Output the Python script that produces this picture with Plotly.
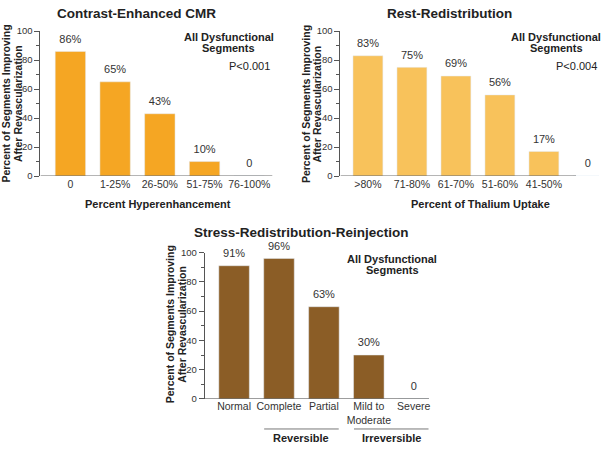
import plotly.graph_objects as go

# ---------------- data ----------------
cmr_cats = ["0", "1-25%", "26-50%", "51-75%", "76-100%"]
cmr_vals = [86, 65, 43, 10, 0]

rr_cats = [">80%", "71-80%", "61-70%", "51-60%", "41-50%", "<40%"]
rr_vals = [83, 75, 69, 56, 17, 0]

srr_cats = ["Normal", "Complete", "Partial", "Mild to<br>Moderate", "Severe"]
srr_vals = [91, 96, 63, 30, 0]

titles = ["Contrast-Enhanced CMR", "Rest-Redistribution", "Stress-Redistribution-Reinjection"]
xtitles = ["Percent Hyperenhancement", "Percent of Thalium Uptake"]
group_labels = ["Reversible", "Irreversible"]
p_values = ["P<0.001", "P<0.004"]

colors = ["#F5A623", "#F8C25B", "#8B5D26"]

W, H = 601, 453
FONT = "Liberation Sans, Arial, sans-serif"
TXT = "#222222"
AX = "#555555"


def px(x):
    return x / W


def py(y):
    return 1 - y / H


def lab(v):
    return f"{v}%" if v > 0 else "0"


fig = go.Figure()

panels = [
    (cmr_cats, cmr_vals, colors[0], "x", "y"),
    (rr_cats, rr_vals, colors[1], "x2", "y2"),
    (srr_cats, srr_vals, colors[2], "x3", "y3"),
]
for cats, vals, col, xa, ya in panels:
    idx = list(range(len(cats)))
    fig.add_trace(go.Bar(x=idx, y=vals, marker_color=col, width=0.68,
                         xaxis=xa, yaxis=ya, showlegend=False, hoverinfo="skip"))
    fig.add_trace(go.Scatter(x=idx, y=vals, mode="markers+text", text=[lab(v) for v in vals],
                             marker=dict(size=8, opacity=0),
                             textposition="top center", cliponaxis=False,
                             textfont=dict(size=11, color="#333333", family=FONT),
                             xaxis=xa, yaxis=ya, showlegend=False, hoverinfo="skip"))

yaxis_common = dict(range=[0, 100], dtick=20, showline=True, linecolor=AX, linewidth=1,
                    ticks="outside", ticklen=5, tickcolor=AX, showgrid=False, zeroline=False,
                    tickfont=dict(size=9.5, color="#333333", family=FONT),
                    minor=dict(dtick=10, ticks="outside", ticklen=3, tickcolor=AX))
xaxis_common = dict(showgrid=False, zeroline=False, ticks="", showline=False,
                    tickfont=dict(size=10.5, color="#333333", family=FONT), tickmode="array")

fig.update_layout(
    width=W, height=H, margin=dict(l=0, r=0, t=0, b=0),
    paper_bgcolor="white", plot_bgcolor="white",
    font=dict(family=FONT, color=TXT),
    xaxis=dict(xaxis_common, domain=[px(40.5), px(273)], range=[-0.67, 4.52],
               tickvals=list(range(len(cmr_cats))), ticktext=cmr_cats, anchor="y"),
    yaxis=dict(yaxis_common, domain=[py(174.3), py(25.7)], anchor="x"),
    xaxis2=dict(xaxis_common, domain=[px(341), px(599.9)], range=[-0.625, 5.25],
                tickvals=list(range(len(rr_cats))), ticktext=rr_cats, anchor="y2"),
    yaxis2=dict(yaxis_common, domain=[py(174.3), py(25.7)], anchor="x2"),
    xaxis3=dict(xaxis_common, domain=[px(205), px(429.7)], range=[-0.655, 4.34],
                tickvals=list(range(len(srr_cats))), ticktext=srr_cats, anchor="y3"),
    yaxis3=dict(yaxis_common, domain=[py(402.7), py(252.7)], anchor="x3"),
)

shapes = []
# x axis baselines
for xa, ya, x0, x1 in [("x", "y", -0.67, 4.52), ("x2", "y2", -0.625, 4.73), ("x3", "y3", -0.655, 4.34)]:
    shapes.append(dict(type="line", xref=xa, yref=ya, x0=x0, x1=x1, y0=0, y1=0,
                       line=dict(color=AX, width=1)))
# group underlines (bottom panel)
for a, b in [(0.67, 2.33), (2.67, 4.33)]:
    shapes.append(dict(type="line", xref="x3", yref="paper", x0=a, x1=b, y0=py(433.5), y1=py(433.5),
                       line=dict(color="#777777", width=1)))
fig.update_layout(shapes=shapes)

ann = []


def text(x, y, s, size=11, bold=False, xanchor="center", angle=0):
    ann.append(dict(x=px(x), y=py(y), xref="paper", yref="paper", text=(f"<b>{s}</b>" if bold else s),
                    showarrow=False, xanchor=xanchor, yanchor="middle", textangle=angle,
                    font=dict(size=size, color=TXT, family=FONT)))


# titles
text(136.5, 8, titles[0], size=13.5, bold=True)
text(450.5, 8, titles[1], size=13.5, bold=True)
text(302, 232, titles[2], size=13.5, bold=True)

# x-axis titles
text(158.5, 202.5, xtitles[0], bold=True)
text(481, 202.5, xtitles[1], bold=True)

# y-axis titles
for cx, cy in [(6, 100), (306, 100), (170.5, 326)]:
    text(cx, cy, "Percent of Segments Improving", size=10.5, bold=True, angle=-90)
    text(cx + 11.5, cy, "After Revascularization", size=10.5, bold=True, angle=-90)

# in-plot notes
text(229, 32, "All Dysfunctional", bold=True)
text(229, 43.5, "Segments", bold=True)
text(272, 62, p_values[0], xanchor="right")
text(557, 32, "All Dysfunctional", bold=True)
text(557, 43.5, "Segments", bold=True)
text(600, 62, p_values[1], xanchor="right")
text(393, 259, "All Dysfunctional", bold=True)
text(393, 270.5, "Segments", bold=True)

# group labels
text(302, 443, group_labels[0], bold=True)
text(392.5, 443, group_labels[1], bold=True)

fig.update_layout(annotations=ann)

fig.write_html("out.html", config={"displayModeBar": False},
               post_script="document.body.style.margin='0';document.body.style.padding='0';"
                           "document.documentElement.style.overflow='hidden';")
